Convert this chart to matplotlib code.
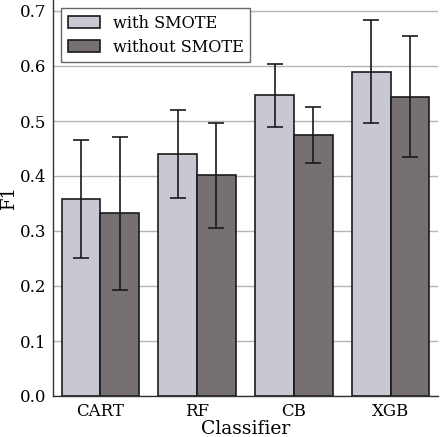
import matplotlib
matplotlib.use("Agg")
import matplotlib.pyplot as plt
import numpy as np

classifiers = ["CART", "RF", "CB", "XGB"]
with_smote = [0.358, 0.440, 0.547, 0.590]
with_smote_err = [0.107, 0.080, 0.057, 0.094]
without_smote = [0.332, 0.401, 0.475, 0.544]
without_smote_err = [0.139, 0.095, 0.051, 0.110]

plt.rcParams["font.family"] = ["DejaVu Serif"]
plt.rcParams["font.size"] = 12

fig = plt.figure(figsize=(4.4, 4.37), dpi=100)
ax = fig.add_axes([53 / 440, 41 / 437, 385 / 440, 396 / 437])

x = np.arange(len(classifiers))
w = 0.4
ax.bar(x - w / 2, with_smote, w, yerr=with_smote_err, capsize=6,
       color="#c8c8d2", edgecolor="#1a1a1a", linewidth=1.2,
       error_kw=dict(ecolor="#1a1a1a", elinewidth=1.2, capthick=1.2),
       label="with SMOTE", zorder=2)
ax.bar(x + w / 2, without_smote, w, yerr=without_smote_err, capsize=6,
       color="#767074", edgecolor="#1a1a1a", linewidth=1.2,
       error_kw=dict(ecolor="#1a1a1a", elinewidth=1.2, capthick=1.2),
       label="without SMOTE", zorder=2)

ax.set_xlim(-0.49, 3.49)
ax.set_ylim(0, 0.72)
ax.set_yticks(np.arange(0, 0.71, 0.1))
ax.set_xticks(x)
ax.set_xticklabels(classifiers)
ax.yaxis.grid(True, color="#b4b4b4", linewidth=1.0, zorder=0)
ax.set_axisbelow(True)
for s in ["top", "right"]:
    ax.spines[s].set_visible(False)
for s in ["left", "bottom"]:
    ax.spines[s].set_color("#333333")
    ax.spines[s].set_linewidth(1.0)
ax.tick_params(length=0, labelsize=12, pad=5)
ax.set_xlabel("Classifier", fontsize=13.5, labelpad=0)
ax.set_ylabel("F1", fontsize=13, labelpad=1)

leg = ax.legend(loc="upper left", fancybox=False, framealpha=1, fontsize=11.6,
                edgecolor="#666666", handlelength=2.0, handleheight=0.75,
                borderpad=0.4, labelspacing=0.45, borderaxespad=0.5)
leg.get_frame().set_linewidth(1.0)

fig.savefig("out.png", dpi=100)
